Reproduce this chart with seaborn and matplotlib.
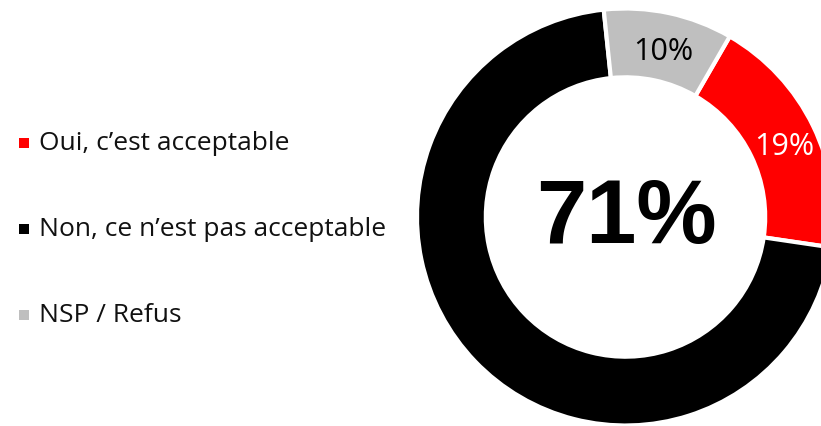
import matplotlib
matplotlib.use("Agg")
import matplotlib.pyplot as plt
from matplotlib.patches import Rectangle
import seaborn as sns

categories = ["Oui, c\u2019est acceptable", "Non, ce n\u2019est pas acceptable", "NSP / Refus"]
values = [19, 71, 10]
colors = ["#FF0000", "#000000", "#BFBFBF"]
label_colors = ["white", "white", "black"]
center_label = "71%"

sns.set_theme(style="white")
plt.rcParams['font.family'] = ['Open Sans', 'DejaVu Sans']

W, H = 821, 426
fig = plt.figure(figsize=(W / 100, H / 100), dpi=100)
ax = fig.add_axes([0, 0, 1, 1])

cx, cy, R = 625.5, H - 217, 208.5
ring = 0.33

wedges, texts = ax.pie(values, colors=colors, startangle=60, counterclock=False,
                       center=(cx, cy), radius=R,
                       wedgeprops=dict(width=R * ring, edgecolor="white", linewidth=3),
                       labels=[f"{v}%" for v in values], labeldistance=1 - ring / 2)
for t, c, v in zip(texts, label_colors, values):
    t.set_color(c)
    t.set_fontsize(22)
    t.set_ha("center")
    t.set_va("center_baseline")
    x, y = t.get_position()
    t.set_position((x + 2, y - 2))
    if v == 71:
        t.set_visible(False)

ax.text(cx + 1, cy - 3, center_label, ha="center", va="center", fontsize=65,
        fontweight="bold", color="black", family=["Liberation Sans", "DejaVu Sans"])

ax.set_xlim(0, W)
ax.set_ylim(0, H)
ax.set_aspect("equal")
ax.axis("off")

# legend
leg_y = [H - 143, H - 229, H - 315]
for lab, col, y in zip(categories, colors, leg_y):
    ax.add_patch(Rectangle((19, y - 5), 10, 10, facecolor=col, edgecolor="none"))
    ax.text(39, y, lab, ha="left", va="center", fontsize=19, color="#111111")

fig.savefig("out.png", dpi=100)
